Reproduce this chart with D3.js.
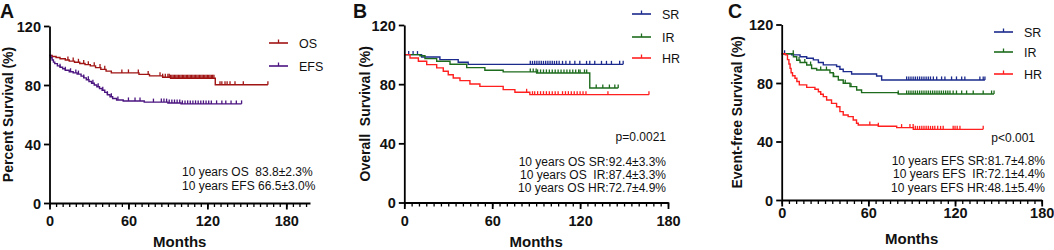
<!DOCTYPE html>
<html><head><meta charset="utf-8">
<script src="https://cdn.jsdelivr.net/npm/d3@7"></script>
<style>
body{margin:0;background:#fff}
svg{display:block}
text{font-family:Arial,"Liberation Sans",sans-serif;fill:#111}
</style>
</head><body>
<svg id="chart" width="1054" height="250"></svg>
<script>
// ---------------- DATA ----------------
const xMajorTicks = [0, 60, 120, 180];
const yTicks = [0, 40, 80, 120];
const panelLetters = ["A", "B", "C"];
const yTitles = ["Percent Survival (%)", "Overall  Survival (%)", "Event-free Survival (%)"];
const xTitle = "Months";

// Panel A
const aNames = ["OS", "EFS"];
const aOsSteps = [[0,100],[2,99.3],[5,98.6],[8,97.8],[12,97.0],[15,96.2],[19,95.4],[23,94.6],[27,93.8],[31,93.0],[35,91.8],[39,90.6],[43,89.4],[47,88.2],[68,87.2],[76,86.2],[86,85.3],[92,84.6],[126,80.2]];
const aOsEnd = 166;
const aOsCensor = [14,18,22,26,29.5,34,38.4,42,55,60,67.5,75,84,86,88,90,91,92,93,94,95,96,97,98,99,100,101,102,103,104,105,106,107,108,109,110,111,112,113,114,115,116,117,118,119,120,121,122,123,124,125,129.6,131,133.4,135,137.2,141,147.3,166];
const aEfsSteps = [[0,100],[1,98.5],[2,97],[3,95.5],[4,94.5],[6,93],[8,92],[10,91],[12,90],[15,89],[18,88.2],[21,87.4],[24,86],[26,84.8],[28,83.6],[30,82.4],[32,81.2],[34,80],[36,78.8],[38,77.6],[40,76.4],[42,75],[44,73.4],[46,72],[48,70.8],[51,69.8],[56,69.2],[72,68.4],[90,67.8],[100,67.2]];
const aEfsEnd = 146;
const aEfsCensor = [8,12,16,20,22,26,29.5,33,37,40.5,44,47,52,60,65,68.8,79,85,87,89,91,93,95,97,99,101,103,105,107,109,111,113,115,117,119,121,123,127,131,134,138,142,146];
const aNotes = ["10 years OS  83.8\u00b12.3%", "10 years EFS 66.5\u00b13.0%"];

// Panel B
const bNames = ["SR", "IR", "HR"];
const bSrSteps = [[0,100],[11.8,98.4],[24.3,96.6],[36.8,94.8],[43.6,93.4]];
const bSrEnd = 149.4;
const bSrCensor = [3,6,9,86,87.5,89,90.5,92,93.5,95,96.5,98,99.5,101,102.5,104,105.7,108,110.3,113,116.4,119.8,124.4,126.6,130,134.6,138,141.4,147,149.4];
const bIrSteps = [[0,100],[10.7,99.2],[14.1,97.3],[22.1,95.5],[31.2,93.5],[42.6,91.2],[55,89.4],[67.5,88.3],[90.3,87.6],[126.6,77.4]];
const bIrEnd = 146;
const bIrCensor = [86,88,90,91,93,95,97,99,101,103,105,107,109,111,113,115,117,119,120,123,124.5,131,135.5,140,143.7,146];
const bHrSteps = [[0,100],[3.9,97.7],[9.6,95.5],[15.3,93.2],[22.1,91],[26.6,88.7],[30,86.4],[33.4,84.2],[38,82.4],[44.8,80.1],[51.6,78.5],[67.5,76.3],[75.5,74.5],[85.7,72.9]];
const bHrEnd = 167;
const bHrCensor = [83.5,87.5,89,91,93,95,97,99,101,103,105,108,110,112,114,116,118,120,122,124,139,167];
const bPvalue = "p=0.0021";
const bNotes = ["10 years OS SR:92.4\u00b13.3%", "10 years OS  IR:87.4\u00b13.3%", "10 years OS HR:72.7\u00b14.9%"];

// Panel C
const cNames = ["SR", "IR", "HR"];
const cSrSteps = [[0,100],[6.9,99.2],[12.7,98],[17.3,96.9],[21.9,95.8],[25.4,94],[28.8,92.4],[38,91.3],[40.3,89.4],[42.6,87.8],[48.4,86.2],[65.7,84.8],[69.2,82.1]];
const cSrEnd = 140.7;
const cSrCensor = [2,86.5,88,89.5,91,92.5,94,95.5,97,98.5,100,101.5,103,105,107.3,110.7,113,117.6,121,124.6,126.8,137.2,139.5,140.7];
const cIrSteps = [[0,100],[8.1,98],[10.4,95.6],[12.7,94],[17.3,92.3],[20.7,89.9],[24.2,88.9],[33.4,87],[35.7,84.4],[39.2,82.1],[42.6,79.8],[47.3,77.5],[51.9,75.2],[55.3,73.4],[80.7,72.5]];
const cIrEnd = 147;
const cIrCensor = [8,12,16,20,27,31,36,44,48,80.7,86.5,88,89.5,91,92.5,94,95.5,97,98.5,100,101.5,103,104.5,106,107.5,109,110.5,112,113.5,115,116.5,118.7,121,124.6,128,132.6,139.5,145.3,147];
const cHrSteps = [[0,100],[2.5,99.2],[4,96],[5,93],[5.8,90],[6.5,87],[7.5,85],[9.2,83.2],[10.5,81],[12.2,78.7],[17.3,77],[23,75.7],[25.4,74],[27,72.3],[28.8,70.7],[31.1,68.4],[34.5,66.1],[38,63.8],[40.3,60.4],[42.6,58.1],[46,57],[49.5,54.7],[51.8,52.5],[53,51.3],[66.9,50.4],[79.6,49.5],[91.1,48.3]];
const cHrEnd = 139.5;
const cHrCensor = [61,66.9,83,88.8,91,92.5,94,95.5,97,98.5,100,101.5,103,104.5,106,108,110,111.8,118.7,120,121.5,123.4,139.5];
const cPvalue = "p<0.001";
const cNotes = ["10 years EFS SR:81.7\u00b14.8%", "10 years EFS  IR:72.1\u00b14.4%", "10 years EFS HR:48.1\u00b15.4%"];

// ---------------- STYLE / LAYOUT ----------------
const COL = {OS:"#a01414", EFS:"#4b1580", SR:"#1b2a8c", IR:"#1d6b1d", HR:"#ff1f1f"};
const svg = d3.select("#chart");
const FONT = 'Arial, "Liberation Sans", sans-serif';

const panels = [
  {letter:panelLetters[0], letterX:0, yTitle:yTitles[0], yTitleX:13, xDom:198, xr:[49.5,310], yr:[203,26],
   series:[{name:aNames[0],steps:aOsSteps,end:aOsEnd,censor:aOsCensor},{name:aNames[1],steps:aEfsSteps,end:aEfsEnd,censor:aEfsCensor}],
   legX:269, legY:[43,66], p:null, notes:aNotes, noteAnchor:"start", noteX:182, noteY:[176,190], monthsY:247, tickLabY:226},
  {letter:panelLetters[1], letterX:353, yTitle:yTitles[1], yTitleX:370, xDom:180, xr:[404.3,668], yr:[202.5,25],
   series:[{name:bNames[0],steps:bSrSteps,end:bSrEnd,censor:bSrCensor},{name:bNames[1],steps:bIrSteps,end:bIrEnd,censor:bIrCensor},{name:bNames[2],steps:bHrSteps,end:bHrEnd,censor:bHrCensor}],
   legX:632, legY:[14,37,58], p:bPvalue, pX:666, pY:141, notes:bNotes, noteAnchor:"end", noteX:666, noteY:[166,179,192], monthsY:247, tickLabY:226},
  {letter:panelLetters[2], letterX:728, yTitle:yTitles[2], yTitleX:742, xDom:180, xr:[781.7,1041.7], yr:[200,24.5],
   series:[{name:cNames[0],steps:cSrSteps,end:cSrEnd,censor:cSrCensor},{name:cNames[1],steps:cIrSteps,end:cIrEnd,censor:cIrCensor},{name:cNames[2],steps:cHrSteps,end:cHrEnd,censor:cHrCensor}],
   legX:994, legY:[32,52,74], p:cPvalue, pX:1035, pY:142, notes:cNotes, noteAnchor:"end", noteX:1045, noteY:[165,178,192], monthsY:244, tickLabY:218}
];

function survAt(steps, t){
  let v = steps[0][1];
  for (const s of steps){ if (s[0] <= t) v = s[1]; else break; }
  return v;
}

panels.forEach(P => {
  const g = svg.append("g");
  const x = d3.scaleLinear().domain([0, P.xDom]).range(P.xr);
  const y = d3.scaleLinear().domain([0, 120]).range(P.yr);

  // curves
  const line = d3.line().x(d => x(d[0])).y(d => y(d[1])).curve(d3.curveStepAfter);
  P.series.forEach(s => {
    const pts = s.steps.concat([[s.end, s.steps[s.steps.length-1][1]]]);
    g.append("path").attr("d", line(pts)).attr("fill","none")
      .attr("stroke", COL[s.name]).attr("stroke-width",1.4);
    g.append("g").selectAll("line").data(s.censor).join("line")
      .attr("x1", d => x(d)).attr("x2", d => x(d))
      .attr("y1", d => y(survAt(s.steps, d))).attr("y2", d => y(survAt(s.steps, d)) - 3.5)
      .attr("stroke", COL[s.name]).attr("stroke-width",1.3);
  });

  // x axis: minor ticks
  const minor = d3.range(0, P.xDom + 0.01, 5);
  const xMinor = g.append("g").attr("transform", `translate(0,${P.yr[0]})`)
    .call(d3.axisBottom(x).tickValues(minor).tickSize(4).tickFormat(""));
  xMinor.select(".domain").remove();
  xMinor.selectAll("line").attr("stroke","#000").attr("stroke-width",1.3);
  const xMajor = g.append("g").attr("transform", `translate(0,${P.yr[0]})`)
    .call(d3.axisBottom(x).tickValues(xMajorTicks).tickSize(6.5).tickSizeOuter(0));
  xMajor.select(".domain").attr("stroke","#000").attr("stroke-width",1.8);
  xMajor.selectAll(".tick line").attr("stroke","#000").attr("stroke-width",1.8);
  xMajor.selectAll(".tick text").attr("y", P.tickLabY - P.yr[0]).attr("dy",0)
    .attr("font-family",FONT).attr("font-size",14.5).attr("font-weight","bold").attr("fill","#111");

  // y axis
  const yAx = g.append("g").attr("transform", `translate(${P.xr[0]},0)`)
    .call(d3.axisLeft(y).tickValues(yTicks).tickSize(5.5).tickSizeOuter(0));
  yAx.select(".domain").attr("stroke","#000").attr("stroke-width",1.8);
  yAx.selectAll(".tick line").attr("stroke","#000").attr("stroke-width",1.8);
  yAx.selectAll(".tick text").attr("x",-8.5).attr("dy","0.36em")
    .attr("font-family",FONT).attr("font-size",14.5).attr("font-weight","bold").attr("fill","#111");

  // titles
  g.append("text").text(P.letter).attr("x",P.letterX).attr("y",18)
    .attr("font-size",19.5).attr("font-weight","bold");
  const ymid = (P.yr[0] + P.yr[1]) / 2;
  g.append("text").text(P.yTitle).attr("transform",`translate(${P.yTitleX},${ymid}) rotate(-90)`)
    .attr("text-anchor","middle").attr("font-size",14).attr("font-weight","bold").style("white-space","pre");
  g.append("text").text(xTitle).attr("x",(P.xr[0]+P.xr[1])/2).attr("y",P.monthsY)
    .attr("text-anchor","middle").attr("font-size",15).attr("font-weight","bold");

  // legend
  P.series.forEach((s,i) => {
    const ly = P.legY[i];
    g.append("line").attr("x1",P.legX).attr("x2",P.legX+19).attr("y1",ly).attr("y2",ly)
      .attr("stroke",COL[s.name]).attr("stroke-width",1.6);
    g.append("line").attr("x1",P.legX+9.5).attr("x2",P.legX+9.5).attr("y1",ly).attr("y2",ly-3.5)
      .attr("stroke",COL[s.name]).attr("stroke-width",1.3);
    g.append("text").text(s.name).attr("x",P.legX+30).attr("y",ly+4.5).attr("font-size",12.5);
  });

  // annotations
  if (P.p) g.append("text").text(P.p).attr("x",P.pX).attr("y",P.pY).attr("text-anchor","end").attr("font-size",12);
  P.notes.forEach((n,i) => {
    g.append("text").text(n).attr("x",P.noteX).attr("y",P.noteY[i])
      .attr("text-anchor",P.noteAnchor).attr("font-size",12).style("white-space","pre");
  });
});
</script>
</body></html>
